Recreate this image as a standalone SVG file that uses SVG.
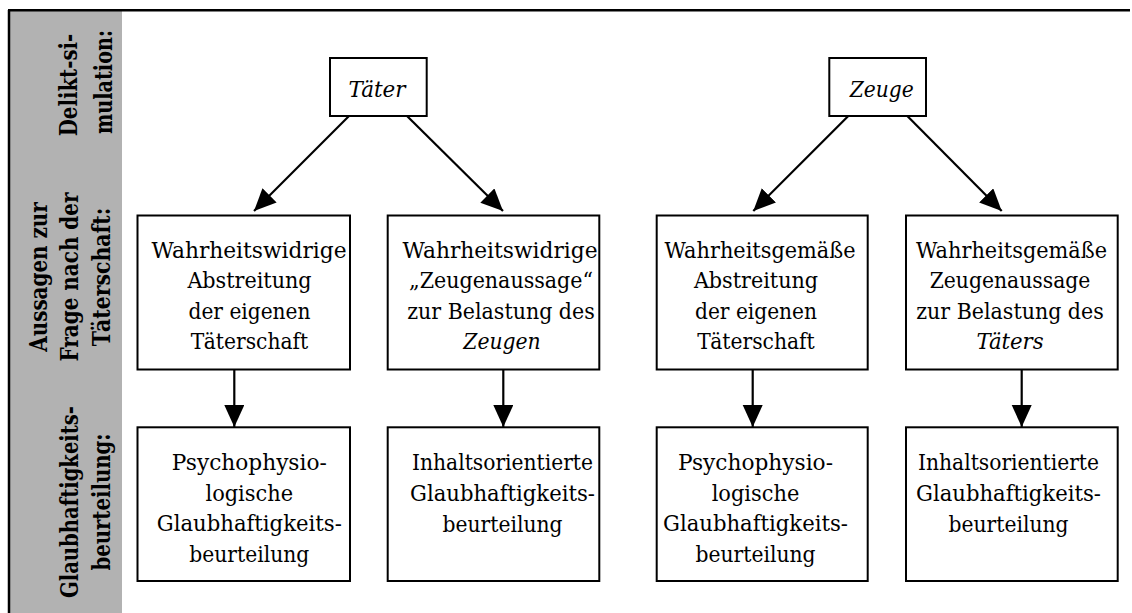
<svg xmlns="http://www.w3.org/2000/svg" width="1132" height="613" viewBox="0 0 1132 613">
<style>
  .box { fill: #ffffff; stroke: #000000; stroke-width: 2; }
  .t { font-family: 'DejaVu Serif', serif; font-size: 22.5px; fill: #000000; text-anchor: middle; }
  .it { font-style: italic; }
  .side { font-family: 'DejaVu Serif', serif; font-size: 24px; font-weight: bold; fill: #000000; text-anchor: middle; }
  .conn { stroke: #000000; stroke-width: 2.2; fill: none; marker-end: url(#arr); }
</style>
<defs>
  <marker id="arr" markerUnits="userSpaceOnUse" markerWidth="24" markerHeight="22" refX="22" refY="10" orient="auto">
    <path d="M0,0 L22,10 L0,20 Z" fill="#000000"/>
  </marker>
</defs>
<rect x="0" y="0" width="1132" height="613" fill="#ffffff"/>
<g id="sidebar">
  <rect x="9" y="10" width="113" height="603" fill="#b2b2b2"/>
  <line x1="9" y1="10" x2="9" y2="613" stroke="#000000" stroke-width="2.5"/>
  <line x1="8" y1="10.3" x2="1130" y2="10.3" stroke="#000000" stroke-width="2.5"/>
  <text class="side" transform="translate(77.3,85) rotate(-90)" textLength="102.5" lengthAdjust="spacingAndGlyphs">Delikt-si-</text>
  <text class="side" transform="translate(111.5,82) rotate(-90)" textLength="104" lengthAdjust="spacingAndGlyphs">mulation:</text>
  <text class="side" transform="translate(46.7,277) rotate(-90)" textLength="149.5" lengthAdjust="spacingAndGlyphs">Aussagen zur</text>
  <text class="side" transform="translate(78.3,277) rotate(-90)" textLength="169" lengthAdjust="spacingAndGlyphs">Frage nach der</text>
  <text class="side" transform="translate(110,277) rotate(-90)" textLength="138.5" lengthAdjust="spacingAndGlyphs">Täterschaft:</text>
  <text class="side" transform="translate(78.3,502) rotate(-90)" textLength="192" lengthAdjust="spacingAndGlyphs">Glaubhaftigkeits-</text>
  <text class="side" transform="translate(110,502) rotate(-90)" textLength="137.2" lengthAdjust="spacingAndGlyphs">beurteilung:</text>
</g>
<g id="connectors">
  <line class="conn" x1="349" y1="116" x2="254" y2="211"/>
  <line class="conn" x1="407" y1="116" x2="503" y2="211"/>
  <line class="conn" x1="848.3" y1="116" x2="753.3" y2="211"/>
  <line class="conn" x1="907.3" y1="116" x2="1001.7" y2="211"/>
  <line class="conn" x1="234.3" y1="369.3" x2="234.3" y2="427"/>
  <line class="conn" x1="503.3" y1="369.3" x2="503.3" y2="427"/>
  <line class="conn" x1="752.7" y1="369.3" x2="752.7" y2="427"/>
  <line class="conn" x1="1021.7" y1="369.3" x2="1021.7" y2="427"/>
</g>
<g id="taeter">
  <rect class="box" x="330" y="58" width="96.7" height="58"/>
  <text class="t it" x="377" y="96.7" textLength="57" lengthAdjust="spacingAndGlyphs">Täter</text>
</g>
<g id="zeuge">
  <rect class="box" x="829.3" y="58" width="96.7" height="58"/>
  <text class="t it" x="881.7" y="96.7" textLength="64" lengthAdjust="spacingAndGlyphs">Zeuge</text>
</g>
<g id="aussage1">
  <rect class="box" x="137.5" y="215.5" width="212.5" height="154"/>
  <text class="t" x="249" y="257.5" textLength="195" lengthAdjust="spacingAndGlyphs">Wahrheitswidrige</text>
  <text class="t" x="249.5" y="288" textLength="124.2" lengthAdjust="spacingAndGlyphs">Abstreitung</text>
  <text class="t" x="249.5" y="318.5" textLength="122" lengthAdjust="spacingAndGlyphs">der eigenen</text>
  <text class="t" x="249.5" y="349" textLength="117.5" lengthAdjust="spacingAndGlyphs">Täterschaft</text>
</g>
<g id="aussage2">
  <rect class="box" x="387.7" y="215.5" width="211.6" height="154"/>
  <text class="t" x="500" y="257.5" textLength="195" lengthAdjust="spacingAndGlyphs">Wahrheitswidrige</text>
  <text class="t" x="501" y="288" textLength="184" lengthAdjust="spacingAndGlyphs">„Zeugenaussage“</text>
  <text class="t" x="501" y="318.5" textLength="187.5" lengthAdjust="spacingAndGlyphs">zur Belastung des</text>
  <text class="t it" x="502" y="349" textLength="77.4" lengthAdjust="spacingAndGlyphs">Zeugen</text>
</g>
<g id="aussage3">
  <rect class="box" x="656.7" y="215.5" width="211" height="154"/>
  <text class="t" x="760" y="257.5" textLength="191" lengthAdjust="spacingAndGlyphs">Wahrheitsgemäße</text>
  <text class="t" x="756" y="288" textLength="124.2" lengthAdjust="spacingAndGlyphs">Abstreitung</text>
  <text class="t" x="756" y="318.5" textLength="122" lengthAdjust="spacingAndGlyphs">der eigenen</text>
  <text class="t" x="756" y="349" textLength="117.5" lengthAdjust="spacingAndGlyphs">Täterschaft</text>
</g>
<g id="aussage4">
  <rect class="box" x="906" y="215.5" width="211.7" height="154"/>
  <text class="t" x="1011.5" y="257.5" textLength="191" lengthAdjust="spacingAndGlyphs">Wahrheitsgemäße</text>
  <text class="t" x="1010" y="288" textLength="160.7" lengthAdjust="spacingAndGlyphs">Zeugenaussage</text>
  <text class="t" x="1010" y="318.5" textLength="187.5" lengthAdjust="spacingAndGlyphs">zur Belastung des</text>
  <text class="t it" x="1010" y="349" textLength="67.2" lengthAdjust="spacingAndGlyphs">Täters</text>
</g>
<g id="urteil1">
  <rect class="box" x="137.5" y="427.3" width="212.5" height="153.7"/>
  <text class="t" x="249.3" y="470" textLength="155" lengthAdjust="spacingAndGlyphs">Psychophysio-</text>
  <text class="t" x="249.3" y="500.5" textLength="87.7" lengthAdjust="spacingAndGlyphs">logische</text>
  <text class="t" x="249.3" y="531.3" textLength="185" lengthAdjust="spacingAndGlyphs">Glaubhaftigkeits-</text>
  <text class="t" x="249.3" y="562" textLength="120" lengthAdjust="spacingAndGlyphs">beurteilung</text>
</g>
<g id="urteil2">
  <rect class="box" x="387.7" y="427.3" width="211.6" height="153.7"/>
  <text class="t" x="502.5" y="470" textLength="181" lengthAdjust="spacingAndGlyphs">Inhaltsorientierte</text>
  <text class="t" x="502.5" y="500.7" textLength="185" lengthAdjust="spacingAndGlyphs">Glaubhaftigkeits-</text>
  <text class="t" x="502.5" y="531.5" textLength="120" lengthAdjust="spacingAndGlyphs">beurteilung</text>
</g>
<g id="urteil3">
  <rect class="box" x="656.7" y="427.3" width="211" height="153.7"/>
  <text class="t" x="755.5" y="470" textLength="155" lengthAdjust="spacingAndGlyphs">Psychophysio-</text>
  <text class="t" x="755.5" y="500.5" textLength="87.7" lengthAdjust="spacingAndGlyphs">logische</text>
  <text class="t" x="755.5" y="531.3" textLength="185" lengthAdjust="spacingAndGlyphs">Glaubhaftigkeits-</text>
  <text class="t" x="755.5" y="562" textLength="120" lengthAdjust="spacingAndGlyphs">beurteilung</text>
</g>
<g id="urteil4">
  <rect class="box" x="906" y="427.3" width="211.7" height="153.7"/>
  <text class="t" x="1008.5" y="470" textLength="181" lengthAdjust="spacingAndGlyphs">Inhaltsorientierte</text>
  <text class="t" x="1008.5" y="500.7" textLength="185" lengthAdjust="spacingAndGlyphs">Glaubhaftigkeits-</text>
  <text class="t" x="1008.5" y="531.5" textLength="120" lengthAdjust="spacingAndGlyphs">beurteilung</text>
</g>
</svg>
